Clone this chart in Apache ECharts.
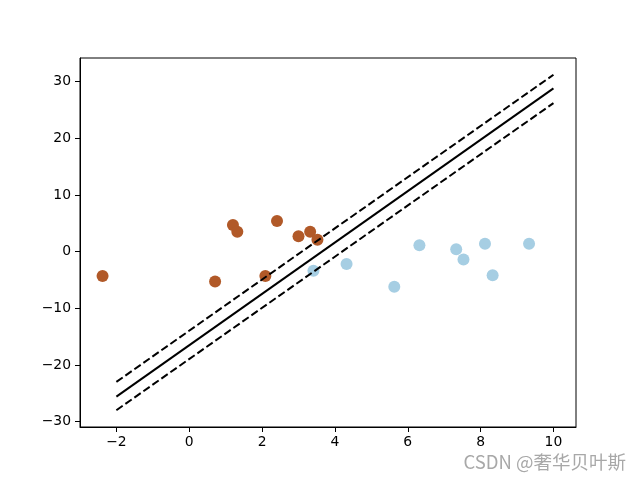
<!DOCTYPE html>
<html>
<head>
<meta charset="utf-8">
<script src="https://cdn.jsdelivr.net/npm/echarts@6/dist/echarts.min.js"></script>
<style>html,body{margin:0;padding:0;background:#fff}#c{width:640px;height:480px}</style>
</head>
<body>
<div id="c"></div>
<script>
const brownX = [-2.38, 0.71, 1.20, 1.32, 2.41, 2.09, 3.00, 3.32, 3.52];
const brownY = [-4.3, -5.3, 4.7, 3.5, 5.4, -4.3, 2.7, 3.5, 2.1];
const blueX = [3.41, 4.32, 5.63, 6.32, 7.33, 7.53, 8.12, 8.33, 9.33];
const blueY = [-3.4, -2.2, -6.2, 1.1, 0.4, -1.4, 1.4, -4.2, 1.4];
const lineX = [-2, 10];
const solidY = [-25.6, 28.8];
const upperY = [-23.0, 31.2];
const lowerY = [-28.0, 26.2];
const xTicks = [-2, 0, 2, 4, 6, 8, 10];
const yTicks = [-30, -20, -10, 0, 10, 20, 30];
const watermark = 'CSDN @奢华贝叶斯';

const zip = (a, b) => a.map((v, i) => [v, b[i]]);
const allX = brownX.concat(blueX, lineX);
const allY = brownY.concat(blueY, solidY, upperY, lowerY);
function lim(arr) {
  const lo = Math.min(...arr), hi = Math.max(...arr), m = (hi - lo) * 0.05;
  return [lo - m, hi + m];
}
const [xmin, xmax] = lim(allX);
const [ymin, ymax] = lim(allY);
const fmt = v => String(v).replace('-', '\u2212');
const font = 'DejaVu Sans';

const axisCommon = {
  axisLine: { show: true, onZero: false, lineStyle: { color: '#000', width: 1 } },
  splitLine: { show: false },
};

const chart = echarts.init(document.getElementById('c'), null, { renderer: 'canvas' });
chart.setOption({
  animation: false,
  backgroundColor: '#fff',
  grid: { left: 80, right: 64, top: 58, bottom: 53, show: true, borderColor: '#000', borderWidth: 1, containLabel: false },
  xAxis: Object.assign({
    type: 'value', min: xmin, max: xmax,
    axisTick: { show: true, length: 5, inside: false, customValues: xTicks, lineStyle: { color: '#000' } },
    axisLabel: { customValues: xTicks, formatter: fmt, color: '#000', fontFamily: font, fontSize: 13.9, margin: 8 },
  }, axisCommon),
  yAxis: Object.assign({
    type: 'value', min: ymin, max: ymax,
    axisTick: { show: true, length: 5, inside: false, customValues: yTicks, lineStyle: { color: '#000' } },
    axisLabel: { customValues: yTicks, formatter: fmt, color: '#000', fontFamily: font, fontSize: 13.9, margin: 9 },
  }, axisCommon),
  series: [
    { type: 'scatter', data: zip(brownX, brownY), symbolSize: 12, itemStyle: { color: '#b15928', opacity: 1 }, z: 2 },
    { type: 'scatter', data: zip(blueX, blueY), symbolSize: 12, itemStyle: { color: '#a6cee3', opacity: 1 }, z: 2 },
    { type: 'line', data: zip(lineX, solidY), symbol: 'none', lineStyle: { color: '#000', width: 2 }, z: 3 },
    { type: 'line', data: zip(lineX, upperY), symbol: 'none', lineStyle: { color: '#000', width: 2, type: [7.7, 3.3] }, z: 3 },
    { type: 'line', data: zip(lineX, lowerY), symbol: 'none', lineStyle: { color: '#000', width: 2, type: [7.7, 3.3] }, z: 3 },
  ],
  graphic: [{
    type: 'text', right: 14, top: 453,
    style: { text: watermark, fill: '#a8a8a8', font: '18.5px "Noto Sans CJK SC", sans-serif' }
  }]
});
</script>
</body>
</html>
